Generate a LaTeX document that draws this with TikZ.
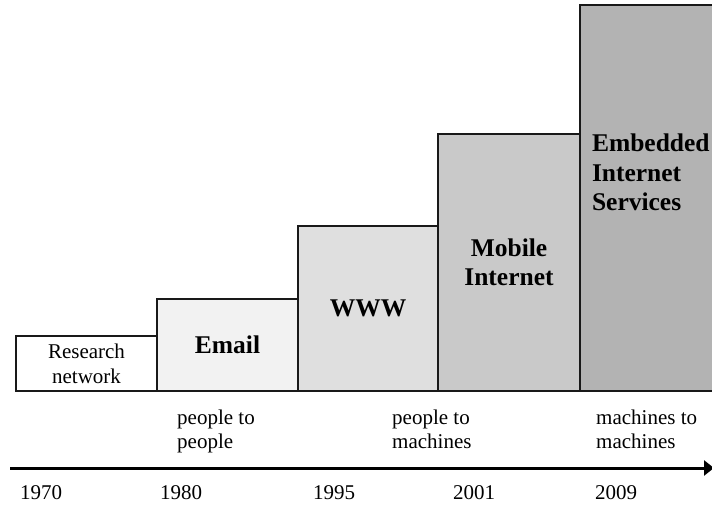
\documentclass[tikz,border=0pt]{standalone}
\usepackage{fontspec}
\setmainfont{Liberation Serif}
\usetikzlibrary{arrows.meta}
\definecolor{eraone}{HTML}{FFFFFF}
\definecolor{eratwo}{HTML}{F2F2F2}
\definecolor{erathree}{HTML}{DFDFDF}
\definecolor{erafour}{HTML}{C9C9C9}
\definecolor{erafive}{HTML}{B3B3B3}
\begin{document}
\begin{tikzpicture}[x=1pt, y=1pt,
    era/.style={draw=black!90, line width=1.5pt, anchor=south west, inner sep=0pt, outer sep=0pt,
        align=center, font=\bfseries\fontsize{25.5}{29.5}\selectfont},
    plain/.style={inner sep=0pt, font=\fontsize{21}{24}\selectfont},
    year/.style={plain, anchor=base west}]
    \useasboundingbox (0,0) rectangle (712,504);
    % eras, each one standing on the one before
    \node[era, fill=eraone, minimum width=141pt, minimum height=55pt,
        font=\fontsize{21}{25}\selectfont] (research) at (16,113) {Research\\network};
    \node[era, fill=eratwo, minimum width=141pt, minimum height=92pt] (email) at (research.south east) {Email};
    \node[era, fill=erathree, minimum width=140pt, minimum height=165pt] (www) at (email.south east) {WWW};
    \node[era, fill=erafour, minimum width=142pt, minimum height=257pt] (mobile) at (www.south east) {Mobile\\Internet};
    \node[era, fill=erafive, minimum width=150pt, minimum height=386pt] (embedded) at (mobile.south east) {};
    \node[era, draw=none, anchor=north west, align=left] (embeddedtext) at (592,370) {Embedded\\Internet\\Services};
    % who talks to whom
    \node[plain, anchor=north west, align=left] (peoplepeople) at (177,94) {people to\\people};
    \node[plain, anchor=north west, align=left] (peoplemachines) at (392,94) {people to\\machines};
    \node[plain, anchor=north west, align=left] (machinesmachines) at (596,94) {machines to\\machines};
    % time axis
    \coordinate (axisstart) at (10,36);
    \coordinate (axisend) at (714,36);
    \draw[line width=3pt, -{Triangle[length=10pt, width=15pt]}] (axisstart) -- (axisend);
    \node[year] (y1970) at (20,5) {1970};
    \node[year] (y1980) at (160,5) {1980};
    \node[year] (y1995) at (313,5) {1995};
    \node[year] (y2001) at (453,5) {2001};
    \node[year] (y2009) at (595,5) {2009};
\end{tikzpicture}
\end{document}
